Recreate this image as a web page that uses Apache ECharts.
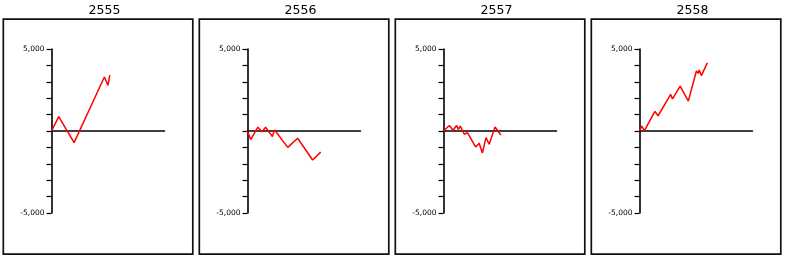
<!DOCTYPE html>
<html>
<head>
<meta charset="utf-8">
<style>
  html, body { margin: 0; padding: 0; background: #ffffff; }
  #chart { width: 787px; height: 260px; }
</style>
<script src="https://cdn.jsdelivr.net/npm/echarts@6/dist/echarts.min.js"></script>
</head>
<body>
<div id="chart"></div>
<script>
// Panel titles (Thai Buddhist-era years)
const years = ['2555', '2556', '2557', '2558'];

// x positions: trading-day index within the year (axis spans 0..250)
const days2555 = [0, 16, 50, 117, 125, 129];
const vals2555 = [0, 880, -710, 3290, 2790, 3400];

const days2556 = [0, 7, 23, 32, 40, 55, 60, 89, 111, 144, 162];
const vals2556 = [0, -520, 230, -40, 230, -340, 60, -1000, -440, -1770, -1290];

const days2557 = [0, 13, 21, 29, 33, 37, 46, 53, 71, 79, 86, 94, 101, 114, 127];
const vals2557 = [0, 340, 50, 330, 100, 300, -200, -100, -975, -750, -1340, -400, -810, 240, -240];

const days2558 = [0, 5, 11, 34, 41, 69, 73, 90, 108, 126, 130, 132, 137, 150];
const vals2558 = [0, 300, 20, 1200, 930, 2230, 1960, 2730, 1820, 3670, 3510, 3720, 3380, 4150];

// axis settings
const yMin = -5000, yMax = 5000, yStep = 1000;
const xMin = 0, xMax = 250;

const allDays = [days2555, days2556, days2557, days2558];
const allVals = [vals2555, vals2556, vals2557, vals2558];

const panelStep = 196;
const grids = [], xAxes = [], yAxes = [], series = [], graphics = [];

for (let i = 0; i < 4; i++) {
  const off = i * panelStep;
  graphics.push({
    type: 'rect',
    shape: { x: 3.3 + off, y: 19.2, width: 189.5, height: 235 },
    style: { fill: 'none', stroke: '#111', lineWidth: 1.7 },
    z: 0
  });
  graphics.push({
    type: 'text',
    style: {
      x: 104.5 + off, y: 11,
      text: years[i],
      textAlign: 'center', textVerticalAlign: 'middle',
      font: '12.5px "DejaVu Sans"', fill: '#000'
    }
  });
  grids.push({ left: 51.5 + off, top: 49, width: 113, height: 164, containLabel: false });
  xAxes.push({
    type: 'value', gridIndex: i, min: xMin, max: xMax,
    axisLine: { show: true, onZero: true, lineStyle: { color: '#000', width: 1.5 } },
    axisTick: { show: false }, axisLabel: { show: false }, splitLine: { show: false }
  });
  yAxes.push({
    type: 'value', gridIndex: i, min: yMin, max: yMax, interval: yStep,
    axisLine: { show: true, onZero: false, lineStyle: { color: '#000', width: 1.6 } },
    axisTick: { show: true, length: 5, lineStyle: { color: '#000', width: 1.2 } },
    axisLabel: {
      show: true, margin: 7, fontSize: 7.5, fontFamily: 'DejaVu Sans', color: '#000',
      formatter: function (v) {
        if (Math.abs(v) === 5000) return (v < 0 ? '-' : '') + '5,000';
        return '';
      }
    },
    splitLine: { show: false }
  });
  series.push({
    type: 'line', xAxisIndex: i, yAxisIndex: i,
    data: allDays[i].map((d, k) => [d, allVals[i][k]]),
    showSymbol: false, symbol: 'none', smooth: false,
    lineStyle: { color: '#ff0000', width: 1.5 },
    animation: false, z: 5
  });
}

const chart = echarts.init(document.getElementById('chart'), null, { renderer: 'canvas' });
chart.setOption({
  animation: false,
  backgroundColor: '#ffffff',
  grid: grids,
  xAxis: xAxes,
  yAxis: yAxes,
  series: series,
  graphic: graphics
});
</script>
</body>
</html>
